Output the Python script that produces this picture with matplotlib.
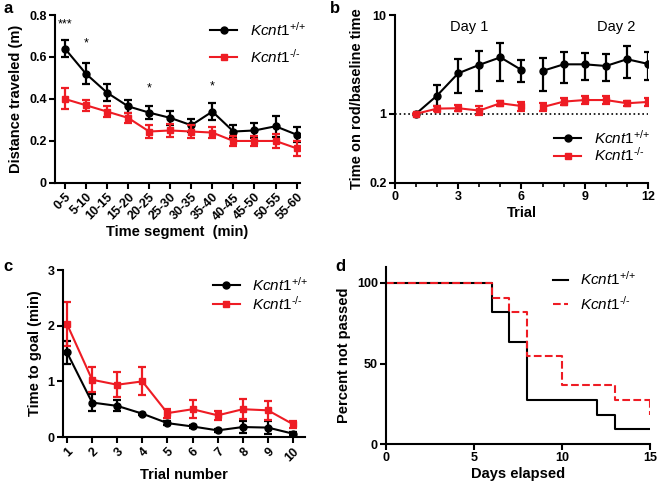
import matplotlib
matplotlib.use("Agg")
import matplotlib.pyplot as plt
from matplotlib.ticker import FixedLocator, MultipleLocator, NullLocator

plt.rcParams['font.family'] = ['Liberation Sans', 'DejaVu Sans']
plt.rcParams['mathtext.fontset'] = 'custom'
plt.rcParams['mathtext.it'] = 'Liberation Sans:italic'
plt.rcParams['mathtext.rm'] = 'Liberation Sans'

WT_LABEL = r"$\mathit{Kcnt1}^{\text{+/+}}$"
KO_LABEL = r"$\mathit{Kcnt1}^{\text{-/-}}$"
RED = '#ee1c24'

# panel a: open field
segments = ['0-5', '5-10', '10-15', '15-20', '20-25', '25-30', '30-35',
            '35-40', '40-45', '45-50', '50-55', '55-60']
dist_wt = [0.64, 0.52, 0.43, 0.365, 0.335, 0.31, 0.275, 0.34, 0.245, 0.25, 0.27, 0.23]
dist_wt_err = [0.04, 0.05, 0.04, 0.03, 0.03, 0.035, 0.03, 0.04, 0.03, 0.035, 0.05, 0.035]
dist_ko = [0.40, 0.37, 0.34, 0.31, 0.245, 0.25, 0.245, 0.24, 0.20, 0.20, 0.20, 0.165]
dist_ko_err = [0.05, 0.025, 0.025, 0.025, 0.03, 0.03, 0.03, 0.025, 0.025, 0.025, 0.035, 0.035]
sig_marks = {0: ('***', 0.755), 1: ('*', 0.665), 4: ('*', 0.45), 7: ('*', 0.46)}

# panel b: rotarod
trials_day1 = [1, 2, 3, 4, 5, 6]
trials_day2 = [7, 8, 9, 10, 11, 12]
rod_wt = [1.0, 1.53, 2.57, 3.13, 3.73, 2.78, 2.72, 3.17, 3.17, 3.05, 3.57, 3.2]
rod_wt_lo = [1.0, 1.2, 1.62, 1.72, 2.15, 2.12, 1.72, 2.04, 2.2, 2.15, 2.29, 2.2]
rod_wt_hi = [1.0, 1.96, 3.6, 4.36, 5.25, 3.5, 3.7, 4.26, 4.16, 4.0, 4.9, 4.2]
rod_ko = [1.0, 1.13, 1.14, 1.08, 1.28, 1.2, 1.17, 1.33, 1.38, 1.38, 1.28, 1.32]
rod_ko_lo = [1.0, 1.06, 1.07, 0.97, 1.2, 1.08, 1.07, 1.22, 1.27, 1.27, 1.2, 1.2]
rod_ko_hi = [1.0, 1.2, 1.22, 1.2, 1.36, 1.33, 1.28, 1.45, 1.5, 1.5, 1.36, 1.45]

# panel c: time to goal
trial_num = [1, 2, 3, 4, 5, 6, 7, 8, 9, 10]
goal_wt = [1.52, 0.62, 0.56, 0.42, 0.25, 0.19, 0.12, 0.18, 0.17, 0.06]
goal_wt_err = [0.2, 0.16, 0.1, 0.02, 0.03, 0.03, 0.03, 0.1, 0.12, 0.03]
goal_ko = [2.03, 1.03, 0.94, 1.0, 0.43, 0.5, 0.39, 0.5, 0.48, 0.23]
goal_ko_err = [0.4, 0.22, 0.22, 0.25, 0.08, 0.16, 0.08, 0.18, 0.17, 0.06]

# panel d: survival curve (value after each step day)
surv_wt_days = [0, 6, 7, 8, 12, 13, 15]
surv_wt = [100, 81.8, 63.6, 27.3, 18.2, 9.1, 9.1]
surv_ko_days = [0, 6, 7, 8, 10, 13, 15]
surv_ko = [100, 90.9, 81.8, 54.5, 36.4, 27.3, 18.2]

TICK_FS = 9
LAB_FS = 10.5
LEG_FS = 11


def style_axes(ax):
    for s in ['top', 'right']:
        ax.spines[s].set_visible(False)
    for s in ['left', 'bottom']:
        ax.spines[s].set_linewidth(1.5)
    ax.tick_params(width=1.5, length=4, labelsize=TICK_FS, pad=2)
    ax.tick_params(which='minor', width=1.2, length=3)
    for lab in ax.get_xticklabels() + ax.get_yticklabels():
        lab.set_fontweight('bold')


def series(ax, x, y, yerr, color, marker, label):
    ax.errorbar(x, y, yerr=yerr, fmt='none', ecolor=color, capsize=3,
                elinewidth=1.6, capthick=1.6)
    ax.plot(x, y, color=color, marker=marker, lw=1.5, markersize=5, label=label)


fig = plt.figure(figsize=(6.58, 4.84), dpi=100)
ax_a = fig.add_axes([0.0836, 0.622, 0.372, 0.347])
ax_b = fig.add_axes([0.600, 0.622, 0.385, 0.347])
ax_c = fig.add_axes([0.0957, 0.097, 0.368, 0.345])
ax_d = fig.add_axes([0.587, 0.0826, 0.401, 0.366])

# ---- a ----
xa = list(range(len(segments)))
series(ax_a, xa, dist_wt, dist_wt_err, 'black', 'o', WT_LABEL)
series(ax_a, xa, dist_ko, dist_ko_err, RED, 's', KO_LABEL)
for i, (txt, y) in sig_marks.items():
    ax_a.text(i, y, txt, ha='center', va='center', fontsize=9)
ax_a.set_xlim(-0.47, 11.15)
ax_a.set_ylim(0, 0.8)
ax_a.set_yticks([0, 0.2, 0.4, 0.6, 0.8])
ax_a.set_yticklabels(['0', '0.2', '0.4', '0.6', '0.8'])
ax_a.set_xticks(xa)
ax_a.set_xticklabels(segments, rotation=45, ha='right', rotation_mode='anchor')
ax_a.set_xlabel('Time segment  (min)', fontsize=LAB_FS, fontweight='bold', labelpad=2)
ax_a.set_ylabel('Distance traveled (m)', fontsize=LAB_FS, fontweight='bold')
style_axes(ax_a)
ax_a.legend(loc='upper right', frameon=False, fontsize=LEG_FS, handlelength=1.8,
            bbox_to_anchor=(1.08, 1.05), labelspacing=0.6)

# ---- b ----
n1 = len(trials_day1)
for seg, sl in [(trials_day1, slice(0, n1)), (trials_day2, slice(n1, None))]:
    for vals, lo, hi, col, mk, lab in [(rod_wt, rod_wt_lo, rod_wt_hi, 'black', 'o', WT_LABEL),
                                      (rod_ko, rod_ko_lo, rod_ko_hi, RED, 's', KO_LABEL)]:
        v = vals[sl]
        yerr = [[a - b for a, b in zip(v, lo[sl])], [b - a for a, b in zip(v, hi[sl])]]
        series(ax_b, seg, v, yerr, col, mk, lab if seg is trials_day1 else None)
ax_b.axhline(1, color='black', ls=':', lw=1.2, zorder=0)
ax_b.set_yscale('log')
ax_b.set_ylim(0.2, 10)
ax_b.yaxis.set_major_locator(FixedLocator([0.2, 1, 10]))
ax_b.yaxis.set_minor_locator(NullLocator())
ax_b.set_yticklabels(['0.2', '1', '10'])
ax_b.set_xlim(0, 12)
ax_b.set_xticks([0, 3, 6, 9, 12])
ax_b.xaxis.set_minor_locator(MultipleLocator(1))
ax_b.text(3.5, 7.6, 'Day 1', ha='center', va='center', fontsize=10.5)
ax_b.text(10.5, 7.6, 'Day 2', ha='center', va='center', fontsize=10.5)
ax_b.set_xlabel('Trial', fontsize=LAB_FS, fontweight='bold', labelpad=2)
ax_b.set_ylabel('Time on rod/baseline time', fontsize=LAB_FS, fontweight='bold')
style_axes(ax_b)
ax_b.legend(loc='lower right', frameon=False, fontsize=LEG_FS, handlelength=1.8,
            bbox_to_anchor=(1.06, 0.03), labelspacing=0.0)

# ---- c ----
series(ax_c, trial_num, goal_wt, goal_wt_err, 'black', 'o', WT_LABEL)
series(ax_c, trial_num, goal_ko, goal_ko_err, RED, 's', KO_LABEL)
ax_c.set_xlim(0.84, 10.48)
ax_c.set_ylim(0, 3)
ax_c.set_yticks([0, 1, 2, 3])
ax_c.set_xticks(trial_num)
ax_c.set_xticklabels([str(t) for t in trial_num], rotation=45, ha='right', rotation_mode='anchor')
ax_c.set_xlabel('Trial number', fontsize=LAB_FS, fontweight='bold', labelpad=3)
ax_c.set_ylabel('Time to goal (min)', fontsize=LAB_FS, fontweight='bold')
style_axes(ax_c)
ax_c.legend(loc='upper right', frameon=False, fontsize=LEG_FS, handlelength=1.8,
            bbox_to_anchor=(1.07, 1.05), labelspacing=0.1)

# ---- d ----
ax_d.step(surv_wt_days, surv_wt, where='post', color='black', lw=1.5, label=WT_LABEL)
ko_x = surv_ko_days
ko_y = surv_ko[:-1] + [surv_ko[-2]]
ax_d.step(ko_x, ko_y, where='post', color=RED, lw=1.5, ls='--', label=KO_LABEL)
ax_d.plot([ko_x[-1], ko_x[-1]], [surv_ko[-2], surv_ko[-1]], color=RED, lw=1.5, ls='--')
ax_d.set_xlim(0, 15)
ax_d.set_ylim(0, 110)
ax_d.set_yticks([0, 50, 100])
ax_d.set_xticks([0, 5, 10, 15])
ax_d.set_xlabel('Days elapsed', fontsize=LAB_FS, fontweight='bold', labelpad=2)
ax_d.set_ylabel('Percent not passed', fontsize=LAB_FS, fontweight='bold')
style_axes(ax_d)
ax_d.legend(loc='upper right', frameon=False, fontsize=LEG_FS, handlelength=1.0,
            bbox_to_anchor=(1.0, 1.06), labelspacing=0.45)

for txt, x, y in [('a', 0.005, 0.998), ('b', 0.502, 0.998), ('c', 0.005, 0.465), ('d', 0.51, 0.465)]:
    fig.text(x, y, txt, fontsize=12, fontweight='bold', va='top')

fig.savefig('out.png', dpi=100)
